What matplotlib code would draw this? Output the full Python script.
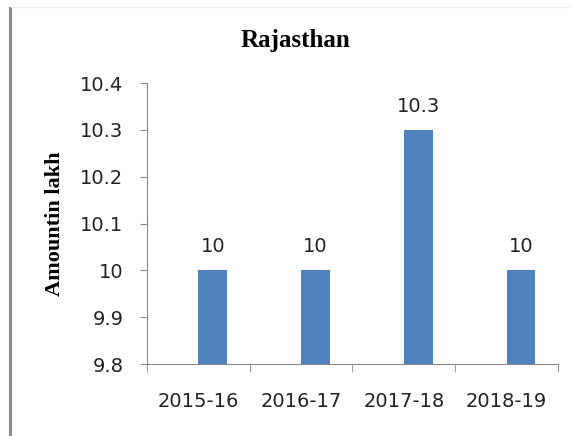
import matplotlib.pyplot as plt
import matplotlib.patches as patches
import numpy as np

years = ['2015-16', '2016-17', '2017-18', '2018-19']
amounts = [10, 10, 10.3, 10]
labels = ['10', '10', '10.3', '10']
y_ticks = [9.8, 9.9, 10, 10.1, 10.2, 10.3, 10.4]

fig = plt.figure(figsize=(5.71, 4.36), dpi=100)
ax = fig.add_axes([0.2574, 0.1651, 0.7196, 0.6445])

x = np.arange(len(years))
bar_w = 0.28
# bars start at the category centre (second empty series in the original)
ax.bar(x, np.array(amounts) - 9.8, bottom=9.8, width=bar_w, align='edge',
       color='#4f81bd')
for xi, val, lab in zip(x, amounts, labels):
    ax.annotate(lab, (xi + bar_w / 2, val), xytext=(0, 13), textcoords='offset points',
                ha='center', va='baseline', fontsize=14, color='#222222')

ax.set_xlim(-0.5, 3.5)
ax.set_ylim(9.8, 10.4)
ax.set_yticks(y_ticks)
ax.set_yticklabels([f'{t:g}' for t in y_ticks], fontsize=14, color='#222222')
ax.set_xticks(x)
ax.set_xticklabels(years, fontsize=14, color='#222222')
ax.tick_params(axis='x', length=0, pad=20)
ax.set_xticks(np.arange(-0.5, 4, 1), minor=True)
ax.tick_params(axis='x', which='minor', length=6, color='#888888')
ax.tick_params(axis='y', length=5, color='#888888', pad=12)

for s in ['top', 'right']:
    ax.spines[s].set_visible(False)
ax.spines['left'].set_color('#888888')
ax.spines['bottom'].set_color('#888888')

fig.text(0.518, 0.908, 'Rajasthan', ha='center', va='center', fontsize=18,
         fontweight='bold', family='Liberation Serif')
fig.text(0.096, 0.486, 'Amountin lakh', ha='center', va='center', rotation=90,
         fontsize=16, fontweight='bold', family='Liberation Serif')

# gray frame on the left and faint line on top
fig.add_artist(patches.Rectangle((0.016, 0.0), 0.005, 0.985, transform=fig.transFigure,
                                 color='#8c8c8c', lw=0))
fig.add_artist(plt.Line2D([0.02, 1.0], [0.985, 0.985], transform=fig.transFigure,
                          color='#eeeeee', lw=1))

fig.savefig('out.png', dpi=100)
